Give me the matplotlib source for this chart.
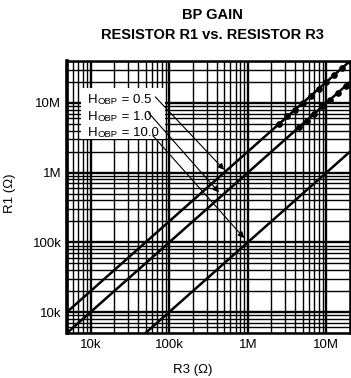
import numpy as np
import matplotlib.pyplot as plt
from matplotlib.ticker import LogLocator, NullFormatter, FixedLocator, FixedFormatter
from matplotlib.patches import Rectangle

plt.rcParams['font.family'] = ['Liberation Sans', 'DejaVu Sans']

# R3 span of the curves (ohms) and matching R1 for each band-pass gain
r3_ends = [5e3, 2e7]
r1_gain_05 = [1e4, 4e7]
r1_gain_1 = [5e3, 2e7]
r1_gain_10 = [5e2, 2e6]

# beaded part of the two upper curves
bead_r3_05 = [2.5e6, 3.2e6, 4e6, 5e6, 6.3e6, 8e6, 1e7, 1.26e7, 1.6e7, 2e7]
bead_r1_05 = [5e6, 6.4e6, 8e6, 1e7, 1.26e7, 1.6e7, 2e7, 2.5e7, 3.2e7, 4e7]
bead_r3_1 = [4.5e6, 5.6e6, 7e6, 8.9e6, 1.12e7, 1.4e7, 1.78e7]
bead_r1_1 = [4.5e6, 5.6e6, 7e6, 8.9e6, 1.12e7, 1.4e7, 1.78e7]

gain_labels = ['0.5', '1.0', '10.0']
# where the leader arrows land on each curve (R3, R1)
arrow_r3 = [5.0e5, 4.3e5, 9.0e5]
arrow_r1 = [1.1e6, 5.2e5, 1.15e5]

x_ticks = [1e4, 1e5, 1e6, 1e7]
x_tick_labels = ['10k', '100k', '1M', '10M']
y_ticks = [1e4, 1e5, 1e6, 1e7]
y_tick_labels = ['10k', '100k', '1M', '10M']

fig = plt.figure(figsize=(3.51, 3.78), dpi=100)
ax = fig.add_axes([67 / 351, 45 / 378, 283 / 351, 272 / 378])
ax.set_xscale('log')
ax.set_yscale('log')
ax.set_xlim(5e3, 2e7)
ax.set_ylim(5e3, 4e7)

# dense printed log grid
ax.xaxis.set_minor_locator(LogLocator(base=10, subs=np.arange(2, 10)))
ax.yaxis.set_minor_locator(LogLocator(base=10, subs=np.arange(2, 10)))
ax.xaxis.set_minor_formatter(NullFormatter())
ax.yaxis.set_minor_formatter(NullFormatter())
ax.grid(True, which='major', color='black', lw=1.7)
ax.grid(True, which='minor', color='black', lw=1.0)

ax.xaxis.set_major_locator(FixedLocator(x_ticks))
ax.xaxis.set_major_formatter(FixedFormatter(x_tick_labels))
ax.yaxis.set_major_locator(FixedLocator(y_ticks))
ax.yaxis.set_major_formatter(FixedFormatter(y_tick_labels))
ax.tick_params(which='both', length=0, labelsize=9.5, pad=4)

for s in ax.spines.values():
    s.set_linewidth(1.8)
ax.spines['left'].set_linewidth(2.6)

for r1 in (r1_gain_05, r1_gain_1, r1_gain_10):
    ax.plot(r3_ends, r1, color='black', lw=1.8, solid_capstyle='butt')
ax.plot(bead_r3_05, bead_r1_05, 'o', color='black', ms=3.8)
ax.plot(bead_r3_1, bead_r1_1, 'o', color='black', ms=3.8)

# white patch behind the gain labels
ax.add_patch(Rectangle((0.05, 0.715), 0.295, 0.185, transform=ax.transAxes,
                       facecolor='white', edgecolor='none', zorder=4))

# "H" + small "OBP" + "= value", chained so each piece follows the previous one
base_y = [0.846, 0.783, 0.726]
start_pts = [(0.312, 0.868), (0.288, 0.81), (0.303, 0.726)]
for lab, by, sp, tx, tyd in zip(gain_labels, base_y, start_pts, arrow_r3, arrow_r1):
    h = ax.text(0.075, by, 'H', transform=ax.transAxes, fontsize=9.5,
                va='baseline', ha='left', zorder=5)
    sub = ax.annotate('OBP', xy=(1, 0), xycoords=h, fontsize=6.8,
                      va='bottom', ha='left', zorder=5)
    ax.annotate(' = ' + lab, xy=(1, 0), xycoords=(sub, h), fontsize=9.5,
                va='bottom', ha='left', zorder=5)
    ax.annotate('', xy=(tx, tyd), xycoords='data', xytext=sp, textcoords='axes fraction',
                arrowprops=dict(arrowstyle='-|>', color='black', lw=0.8,
                                mutation_scale=9, shrinkA=0, shrinkB=0), zorder=6)

fig.text(212 / 351, 1 - 15 / 378, 'BP GAIN', ha='center', va='center',
         fontsize=10.5, fontweight='bold')
fig.text(212 / 351, 1 - 35 / 378, 'RESISTOR R1 vs. RESISTOR R3', ha='center', va='center',
         fontsize=10.5, fontweight='bold')
fig.text(193 / 351, 1 - 370 / 378, 'R3 (Ω)', ha='center', va='center', fontsize=9.5)
fig.text(10 / 351, 1 - 193 / 378, 'R1 (Ω)', ha='center', va='center', fontsize=9.5,
         rotation=90)

fig.savefig('out.png', dpi=100)
